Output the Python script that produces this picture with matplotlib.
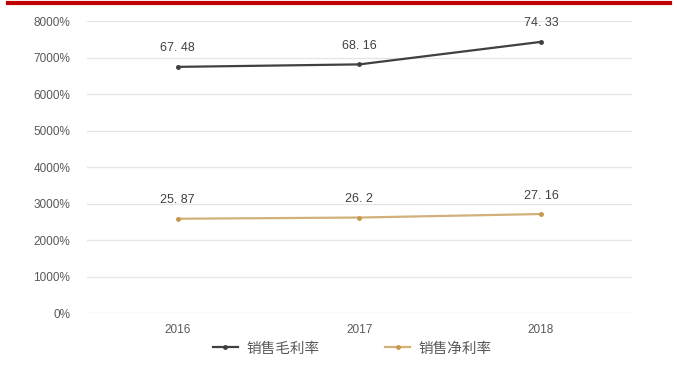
import matplotlib.pyplot as plt
from matplotlib.ticker import FuncFormatter
from matplotlib.lines import Line2D

years = ["2016", "2017", "2018"]
gross_margin = [67.48, 68.16, 74.33]   # 销售毛利率
net_margin = [25.87, 26.2, 27.16]      # 销售净利率
series_names = ["销售毛利率", "销售净利率"]

plt.rcParams['font.family'] = ['Liberation Sans', 'DejaVu Sans']

fig = plt.figure(figsize=(6.78, 3.65), dpi=100)
ax = fig.add_axes([0.128, 0.142, 0.804, 0.800])

# red bar on top
fig.add_artist(Line2D([0.012, 0.988], [0.991, 0.991], color="#C00000", lw=3, transform=fig.transFigure))

x = range(len(years))
colors = ["#404040", "#D2B07A"]
mcolors = ["#404040", "#C49A4E"]
for vals, c, mc, name in zip([gross_margin, net_margin], colors, mcolors, series_names):
    yv = [v * 100 for v in vals]
    ax.plot(x, yv, color=c, lw=1.6, marker="o", ms=2.5, mfc=mc, mec=mc, label=name, zorder=3)
    for xi, v, y in zip(x, vals, yv):
        ax.annotate(str(v).replace(".", ". "), (xi, y), xytext=(0, 9), textcoords="offset points",
                    ha="center", va="bottom", fontsize=9, color="#404040")

ax.set_xlim(-0.5, 2.5)
ax.set_ylim(0, 8000)
ax.set_yticks(range(0, 8001, 1000))
ax.yaxis.set_major_formatter(FuncFormatter(lambda v, p: f"{int(v)}%"))
ax.set_xticks(list(x))
ax.set_xticklabels(years)
ax.grid(axis="y", color="#E5E5E5", lw=0.9)
ax.set_axisbelow(True)
for s in ax.spines.values():
    s.set_visible(False)
ax.tick_params(length=0, labelsize=8.5, colors="#595959", pad=8)
ax.tick_params(axis="y", pad=12)

leg = fig.legend(loc="lower center", bbox_to_anchor=(0.52, -0.01), ncol=2, frameon=False,
                 prop={"family": ["Noto Sans CJK SC", "DejaVu Sans"], "size": 10.5},
                 handlelength=1.7, handletextpad=0.6, columnspacing=4.5, labelcolor="#595959")

fig.savefig("out.png", dpi=100)
